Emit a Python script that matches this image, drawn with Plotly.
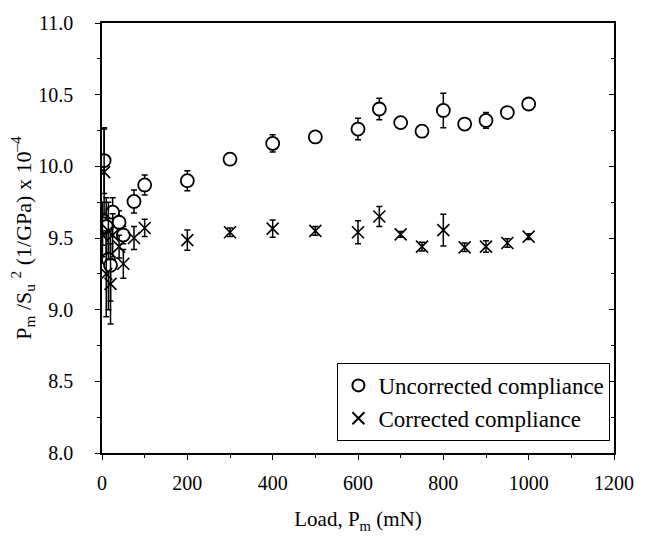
import plotly.graph_objects as go

# ---- data ----
load = [1, 5, 10, 15, 20, 25, 40, 50, 75, 100, 200, 300, 400, 500, 600, 650,
        700, 750, 800, 850, 900, 950, 1000]

uncorrected = [9.60, 10.04, 9.58, 9.35, 9.31, 9.68, 9.61, 9.52, 9.755, 9.87,
               9.90, 10.05, 10.16, 10.205, 10.26, 10.40, 10.305, 10.245, 10.39,
               10.295, 10.32, 10.375, 10.435]
uncorrected_err = [0.15, 0.23, 0.20, 0.35, 0.25, 0.10, 0.08, 0.06, 0.08, 0.07,
                   0.07, 0.03, 0.06, 0.03, 0.075, 0.075, 0.015, 0.03, 0.12,
                   0.03, 0.055, 0.03, 0.015]

corrected = [9.52, 9.96, 9.25, 9.55, 9.18, 9.52, 9.44, 9.32, 9.50, 9.57,
             9.485, 9.54, 9.565, 9.55, 9.54, 9.65, 9.525, 9.44, 9.555,
             9.435, 9.44, 9.465, 9.51]
corrected_err = [0.15, 0.30, 0.30, 0.20, 0.28, 0.15, 0.08, 0.10, 0.08, 0.06,
                 0.07, 0.03, 0.06, 0.03, 0.08, 0.07, 0.02, 0.03, 0.11,
                 0.03, 0.04, 0.03, 0.02]

series_names = ["Uncorrected compliance", "Corrected compliance"]

FONT = "Liberation Serif"

fig = go.Figure()

fig.add_trace(go.Scatter(
    x=load, y=uncorrected, mode="markers", name=series_names[0],
    marker=dict(symbol="circle", size=13, color="white",
                line=dict(color="black", width=1.8)),
    error_y=dict(type="data", array=uncorrected_err, visible=True,
                 color="black", thickness=1.5, width=3),
))
fig.add_trace(go.Scatter(
    x=load, y=corrected, mode="markers", name=series_names[1],
    marker=dict(symbol="x-thin-open", size=12, color="black",
                line=dict(color="black", width=1.6)),
    error_y=dict(type="data", array=corrected_err, visible=True,
                 color="black", thickness=1.5, width=3),
))
# helper trace so the right-hand axis is drawn
fig.add_trace(go.Scatter(x=[], y=[], yaxis="y2", showlegend=False,
                         hoverinfo="skip"))

fig.update_layout(
    width=646, height=539,
    margin=dict(l=102, r=24, t=17, b=83),
    paper_bgcolor="white", plot_bgcolor="white",
    font=dict(family=FONT, size=20, color="black"),
    showlegend=True,
    legend=dict(x=0.993, y=0.028, xanchor="right", yanchor="bottom",
                bgcolor="white", bordercolor="black", borderwidth=1,
                font=dict(family=FONT, size=23, color="black"),
                itemsizing="constant", tracegroupgap=0),
    xaxis=dict(
        range=[0, 1200], dtick=200, tick0=0,
        showgrid=False, zeroline=False,
        showline=True, linecolor="black", linewidth=1.5, mirror=True,
        ticks="outside", ticklen=5, tickwidth=1.2, tickcolor="black",
        ticklabelstandoff=6,
        minor=dict(dtick=100, ticks="outside", ticklen=3, tickcolor="black",
                   tickwidth=1.2, showgrid=False),
        title=dict(text="Load, P<sub>m</sub> (mN)",
                   font=dict(family=FONT, size=21), standoff=19),
        tickfont=dict(family=FONT, size=20),
    ),
    yaxis=dict(
        range=[8.0, 11.0], dtick=0.5, tick0=8.0, tickformat=".1f",
        showgrid=False, zeroline=False,
        showline=True, linecolor="black", linewidth=1.5, mirror=False,
        ticks="outside", ticklen=5, tickwidth=1.2, tickcolor="black",
        ticklabelstandoff=18,
        minor=dict(dtick=0.25, ticks="outside", ticklen=3, tickcolor="black",
                   tickwidth=1.2, showgrid=False),
        title=dict(text="P<sub>m</sub> /S<sub>u</sub> <sup>2</sup> (1/GPa) x 10<sup>\u20134</sup>",
                   font=dict(family=FONT, size=22), standoff=0),
        tickfont=dict(family=FONT, size=20),
    ),
    yaxis2=dict(
        range=[8.0, 11.0], dtick=0.5, tick0=8.0,
        overlaying="y", anchor="x", side="right",
        showgrid=False, zeroline=False, showticklabels=False,
        showline=True, linecolor="black", linewidth=1.5,
        ticks="inside", ticklen=5, tickwidth=1.2, tickcolor="black",
        minor=dict(dtick=0.25, ticks="inside", ticklen=3, tickcolor="black",
                   tickwidth=1.2, showgrid=False),
    ),
)

fig.write_html("out.html")
